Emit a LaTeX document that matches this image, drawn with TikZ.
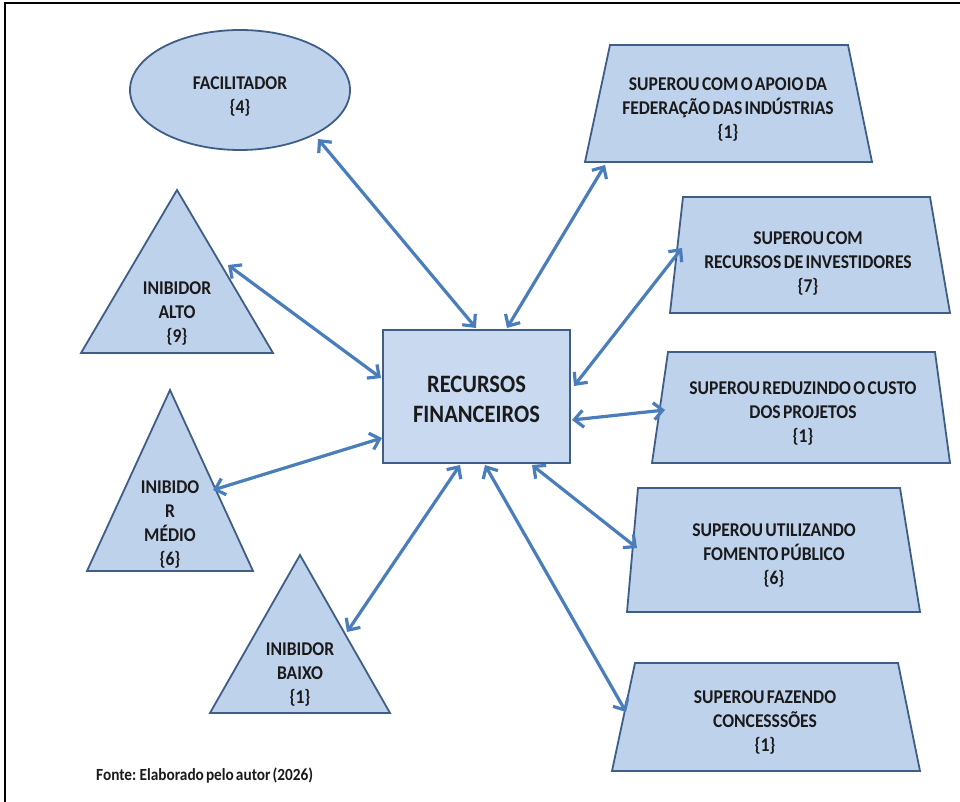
\documentclass[tikz,border=0pt]{standalone}
\usepackage{fontspec}
\setmainfont{Carlito}
\newfontfamily\lblfont{Carlito}[FakeStretch=0.9]
\newfontfamily\srcfont{Carlito}[FakeStretch=0.9, WordSpace=0.6]
\usetikzlibrary{arrows.meta}
\definecolor{fillb}{HTML}{BFD2EB}
\definecolor{fillc}{HTML}{C9DAF0}
\definecolor{edgeb}{HTML}{3E5E88}
\definecolor{arrb}{HTML}{4A7EBB}
\definecolor{txt}{HTML}{1A1A1A}
\begin{document}
\begin{tikzpicture}[x=1pt,y=-1pt,
  shapebox/.style={draw=edgeb, fill=fillb, line width=1.8pt, line join=miter},
  lbl/.style={align=center, font=\lblfont\bfseries\fontsize{19.5}{24}\selectfont, text=txt, inner sep=0pt},
  biglbl/.style={align=center, font=\lblfont\bfseries\fontsize{25}{30}\selectfont, text=txt, inner sep=0pt},
  link/.style={draw=arrb, line width=3.2pt, {Straight Barb[length=9pt,width=17pt]}-{Straight Barb[length=9pt,width=17pt]}}]

\useasboundingbox (0,0) rectangle (960,802);
\fill[white] (0,0) rectangle (960,802);
\draw[line width=2.5pt] (5,802) -- (5,3) -- (960,3);

% central box
\draw[shapebox, fill=fillc] (383,330) rectangle (570,463);
\node[biglbl] (rf) at (476.5,399) {RECURSOS\\FINANCEIROS};

% ellipse
\draw[shapebox] (240,90) ellipse [x radius=110, y radius=60];
\node[lbl] (fac) at (240,97) {FACILITADOR\\\{4\}};

% triangles
\draw[shapebox] (177,190) -- (273,353) -- (81,353) -- cycle;
\node[lbl] (ialto) at (177,314) {INIBIDOR\\ALTO\\\{9\}};
\draw[shapebox] (170,390) -- (253,571) -- (87,571) -- cycle;
\node[lbl] (imedio) at (170,525) {INIBIDO\\R\\MÉDIO\\\{6\}};
\draw[shapebox] (300,555) -- (390,713) -- (210,713) -- cycle;
\node[lbl] (ibaixo) at (300,675) {INIBIDOR\\BAIXO\\\{1\}};

% trapezoids
\draw[shapebox] (610,45) -- (848,45) -- (872,162) -- (585,162) -- cycle;
\node[lbl] (t1) at (728,110) {SUPEROU COM O APOIO DA\\FEDERAÇÃO DAS INDÚSTRIAS\\\{1\}};
\draw[shapebox] (683,197) -- (930,197) -- (950,313) -- (670,313) -- cycle;
\node[lbl] (t2) at (808,264) {SUPEROU COM\\RECURSOS DE INVESTIDORES\\\{7\}};
\draw[shapebox] (668,352) -- (935,352) -- (950,463) -- (652,463) -- cycle;
\node[lbl] (t3) at (803,414) {SUPEROU REDUZINDO O CUSTO\\DOS PROJETOS\\\{1\}};
\draw[shapebox] (638,488) -- (900,488) -- (920,612) -- (627,612) -- cycle;
\node[lbl] (t4) at (774,556) {SUPEROU UTILIZANDO\\FOMENTO PÚBLICO\\\{6\}};
\draw[shapebox] (635,663) -- (898,663) -- (920,771) -- (612,771) -- cycle;
\node[lbl] (t5) at (765,723) {SUPEROU FAZENDO\\CONCESSSÕES\\\{1\}};

% connector end points
\coordinate (aFac) at (318,139);  \coordinate (bFac) at (476,328);
\coordinate (aT1) at (605,165);   \coordinate (bT1) at (507,328);
\coordinate (aAl) at (228,265);   \coordinate (bAl) at (381,378);
\coordinate (aT2) at (682,248);   \coordinate (bT2) at (574,386);
\coordinate (aMe) at (213,490);   \coordinate (bMe) at (382,438);
\coordinate (aT3) at (665,410);   \coordinate (bT3) at (572,420);
\coordinate (aBa) at (347,632);   \coordinate (bBa) at (460,465);
\coordinate (aT4) at (637,548);   \coordinate (bT4) at (532,465);
\coordinate (aT5) at (626,712);   \coordinate (bT5) at (485,465);

\foreach \s in {Fac,T1,Al,T2,Me,T3,Ba,T4,T5}
  \draw[link] (a\s) -- (b\s);

\node[anchor=west, font=\srcfont\bfseries\fontsize{17}{19}\selectfont, text=txt, inner sep=0pt] (src) at (96,776) {Fonte: Elaborado pelo autor (2026)};
\end{tikzpicture}
\end{document}
